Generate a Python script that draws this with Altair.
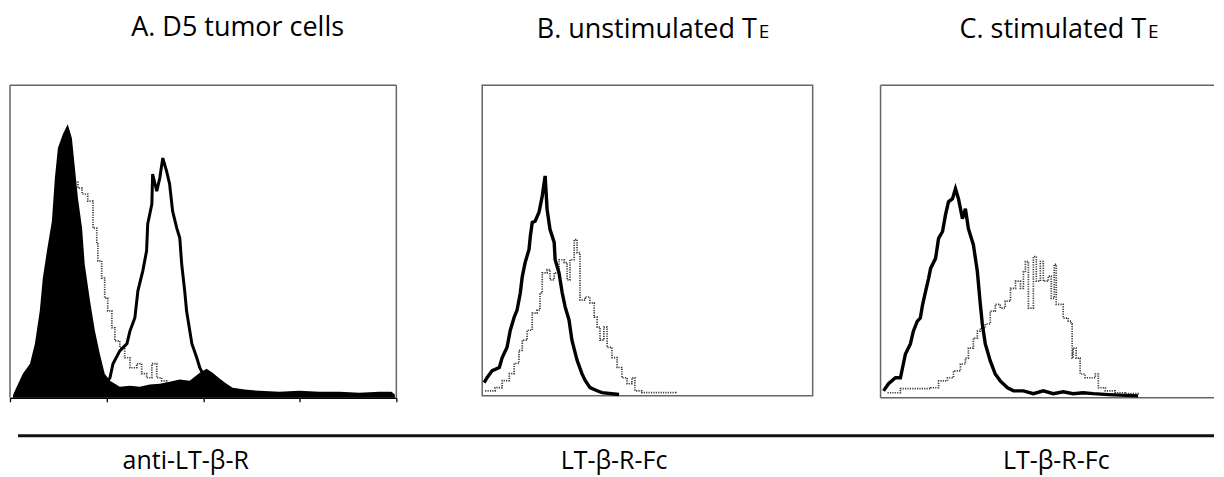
import altair as alt
import pandas as pd

# ---------------- data (channel, relative count) ----------------
# Panel A: D5 tumor cells
a_fill_ch = [8, 13, 34, 53, 66, 79, 87, 98, 111, 119, 127, 140, 153, 164, 172, 180, 191, 198, 212, 225, 238,
             251, 265, 291, 318, 344, 370, 397, 423, 450, 476, 503, 521, 537, 556, 574, 590, 622, 661, 714,
             767, 820, 873, 926, 979, 1011, 1020]
a_fill_ct = [0.8, 2.2, 7.7, 10.9, 17.3, 27.8, 38.3, 47.0, 56.5, 70.3, 79.9, 84.3, 87.5, 83.1, 73.5, 63.9, 54.3,
             42.8, 31.0, 21.4, 14.1, 7.7, 5.4, 3.5, 3.8, 3.5, 4.2, 4.5, 5.1, 5.8, 5.4, 8.0, 9.3, 8.0, 6.1, 4.5,
             3.2, 2.6, 2.2, 1.9, 2.2, 1.9, 1.9, 1.6, 1.9, 1.9, 1.0]
a_thick_ch = [251, 265, 273, 291, 310, 318, 331, 339, 352, 362, 365, 376, 378, 389, 397, 405, 415, 423, 431,
              442, 450, 455, 463, 468, 482, 495, 503, 511, 521]
a_thick_ct = [3.8, 6.4, 10.9, 15.0, 17.3, 21.4, 25.6, 34.2, 40.6, 47.0, 55.6, 62.0, 71.6, 66.1, 70.3, 76.7,
              72.5, 68.4, 59.7, 54.3, 51.1, 42.8, 34.2, 27.8, 17.3, 12.8, 9.6, 7.7, 6.1]
a_dot_ch = [13, 79, 132, 172, 180, 191, 206, 217, 220, 230, 233, 243, 251, 259, 270, 278, 291, 304, 318, 336,
            349, 362, 376, 389, 402, 415]
a_dot_ct = [1.6, 21.0, 63.0, 69.0, 67.1, 65.2, 62.9, 62.9, 54.3, 49.2, 43.8, 38.3, 31.9, 27.8, 22.4, 18.2,
            16.0, 12.8, 9.6, 10.9, 7.7, 6.4, 10.9, 6.4, 5.4, 3.8]

# Panel B: unstimulated TE
b_thick_ch = [6, 15, 31, 53, 62, 77, 87, 99, 108, 118, 124, 133, 145, 149, 155, 164, 176, 186, 195, 201, 210,
              223, 226, 238, 248, 257, 269, 278, 294, 309, 319, 334, 356, 371, 424]
b_thick_ct = [4.2, 5.8, 8.1, 9.1, 12.3, 15.6, 21.1, 25.3, 27.6, 33.1, 38.3, 42.9, 47.1, 51.3, 55.8, 56.2,
              59.1, 64.3, 70.8, 60.1, 53.6, 49.4, 43.8, 39.6, 33.1, 28.6, 24.4, 17.9, 11.4, 7.1, 4.9, 2.6,
              1.6, 1.0, 0.4]
b_dot_ch = [9, 40, 62, 84, 99, 114, 124, 139, 155, 170, 179, 186, 201, 210, 223, 238, 254, 263, 272, 285, 294,
            303, 319, 334, 347, 356, 365, 377, 387, 402, 418, 433, 449, 464, 473, 495, 535, 600]
b_dot_ct = [1.6, 2.6, 4.9, 7.1, 10.4, 14.6, 17.9, 21.1, 26.6, 27.6, 33.1, 39.6, 40.6, 37.3, 39.6, 43.8, 42.9,
            37.3, 43.8, 50.3, 46.1, 30.8, 31.8, 29.9, 25.3, 22.1, 17.9, 22.1, 15.6, 12.3, 9.1, 5.8, 3.9,
            5.8, 1.6, 1.0, 1.0, 0.6]

# Panel C: stimulated TE
c_thick_ch = [9, 24, 45, 60, 75, 90, 99, 111, 120, 127, 136, 145, 151, 166, 175, 187, 196, 205, 217, 226, 235,
              247, 256, 265, 280, 292, 301, 307, 316, 331, 346, 361, 383, 401, 431, 461, 491, 521, 551, 581,
              611, 642, 687, 777]
c_thick_ct = [2.2, 4.5, 6.4, 6.4, 14.0, 17.2, 21.3, 24.5, 25.5, 29.9, 34.1, 38.2, 41.4, 44.6, 51.0, 53.2,
              58.6, 62.7, 63.7, 66.9, 63.7, 57.3, 60.5, 54.1, 49.0, 40.4, 29.9, 23.6, 17.2, 11.8, 7.6, 5.4,
              3.2, 2.2, 2.2, 1.3, 2.2, 1.3, 1.9, 1.3, 1.6, 1.3, 1.0, 0.6]
c_dot_ch = [21, 60, 99, 151, 175, 202, 220, 241, 256, 265, 280, 292, 301, 316, 331, 346, 361, 376, 392, 407,
            422, 431, 437, 446, 461, 470, 482, 491, 506, 515, 524, 530, 542, 551, 566, 575, 578, 581, 590,
            602, 617, 633, 648, 657, 678, 708, 738, 777]
c_dot_ct = [1.6, 2.9, 2.9, 3.2, 5.4, 6.4, 8.6, 10.8, 12.7, 15.9, 19.1, 21.3, 22.3, 23.6, 27.7, 29.9, 28.7,
            30.9, 35.0, 37.3, 35.0, 40.4, 43.6, 28.7, 45.2, 37.3, 43.6, 37.3, 38.9, 31.8, 42.7, 29.9, 29.9,
            25.5, 24.5, 23.6, 12.7, 15.9, 12.7, 7.6, 6.4, 6.4, 7.6, 3.2, 2.2, 1.6, 1.3, 1.0]

titles = ["A. D5 tumor cells", "B. unstimulated T", "C. stimulated T"]
title_sub = "E"
x_labels = ["anti-LT-\u03b2-R", "LT-\u03b2-R-Fc", "LT-\u03b2-R-Fc"]
decade_ticks = [0, 256, 512, 768, 1024]

FONT = "Open Sans"
BOX = "#666666"
TITLE_Y = -47
LABEL_Y = 384


def df(ch, ct):
    return pd.DataFrame({"ch": ch, "ct": ct})


def xenc(axis, rng=None):
    sc = alt.Scale(domain=[0, 1024], nice=False, zero=False) if rng is None else \
        alt.Scale(domain=[0, 1024], nice=False, zero=False, range=rng)
    return alt.X("ch:Q", scale=sc, axis=axis)


yenc = alt.Y("ct:Q", scale=alt.Scale(domain=[0, 100], nice=False), axis=None)


def dotted(d, axis=None, rng=None):
    return alt.Chart(d).mark_line(color="#3c3c3c", strokeWidth=1.7, strokeDash=[1.2, 1.2],
                                  interpolate="step-after").encode(x=xenc(axis, rng), y=yenc)


def thick(d, axis=None, w=3.2, rng=None):
    return alt.Chart(d).mark_line(color="black", strokeWidth=w,
                                  interpolate="linear").encode(x=xenc(axis, rng), y=yenc)


def text(t, x, y, size, align="center"):
    return alt.Chart(pd.DataFrame({"t": [t]})).mark_text(
        font=FONT, fontSize=size, align=align, baseline="alphabetic", color="black"
    ).encode(text="t:N", x=alt.value(x), y=alt.value(y))


one = pd.DataFrame({"k": [0]})


def edge(x, x2=None, y=None, y2=None, color=BOX, w=1.5):
    enc = {"x": alt.value(x), "y": alt.value(y)}
    if x2 is not None:
        enc["x2"] = alt.value(x2)
    if y2 is not None:
        enc["y2"] = alt.value(y2)
    return alt.Chart(one).mark_rule(color=color, strokeWidth=w).encode(**enc)


# ---------------- Panel A ----------------
A_W, A_H = 387, 313
rngA = [0, A_W]
axA = alt.Axis(values=decade_ticks, labels=False, title=None, grid=False, tickSize=4,
               domainColor="black", tickColor="black", domainWidth=1.5, tickWidth=1.3)
fillA = alt.Chart(df(a_fill_ch, a_fill_ct)).mark_area(color="black", interpolate="linear").encode(
    x=xenc(axA, rngA), y=yenc)
panelA = alt.layer(
    edge(100, 101, -76, None, "white", 1),  # invisible spacer: keeps room above the titles
    edge(0, A_W, 0),
    edge(0, None, 0, A_H),
    edge(A_W, None, 0, A_H),
    dotted(df(a_dot_ch, a_dot_ct), axA, rngA),
    fillA,
    thick(df(a_thick_ch, a_thick_ct), axA, 3.0, rngA),
    text(titles[0], 228, TITLE_Y - 2, 27),
    text(x_labels[0], 176, LABEL_Y, 25),
    edge(8, 1206, 351, None, "#111111", 3),
).properties(width=A_W + 18, height=A_H, view=alt.ViewBackground(strokeWidth=0))

# ---------------- Panel B ----------------
panelB = alt.layer(
    dotted(df(b_dot_ch, b_dot_ct)),
    thick(df(b_thick_ch, b_thick_ct), None, 3.4),
    text(titles[1], 275, TITLE_Y, 27, "right"),
    text(title_sub, 277, TITLE_Y, 19, "left"),
    text(x_labels[1], 132, LABEL_Y, 25),
).properties(width=331, height=311, view=alt.ViewBackground(stroke=BOX, strokeWidth=1.5))

# ---------------- Panel C ----------------
C_W = 334
rngC = [0, 340]
panelC = alt.layer(
    edge(0, C_W, 0),
    edge(0, None, 0, 313),
    edge(0, C_W, 313),
    dotted(df(c_dot_ch, c_dot_ct), None, rngC),
    thick(df(c_thick_ch, c_thick_ct), None, 3.4, rngC),
    text(titles[2], 266, TITLE_Y, 27, "right"),
    text(title_sub, 268, TITLE_Y, 19, "left"),
    text(x_labels[2], 176, LABEL_Y, 25),
).properties(width=C_W, height=313, view=alt.ViewBackground(strokeWidth=0))

chart = alt.hconcat(panelA, panelB, panelC, spacing=68, bounds="flush").properties(
    padding={"left": 1, "top": 0, "right": 0, "bottom": 0}
).configure_view(stroke=None).configure(background="white")

chart.save("out.html", embed_options={"renderer": "svg", "actions": False})
